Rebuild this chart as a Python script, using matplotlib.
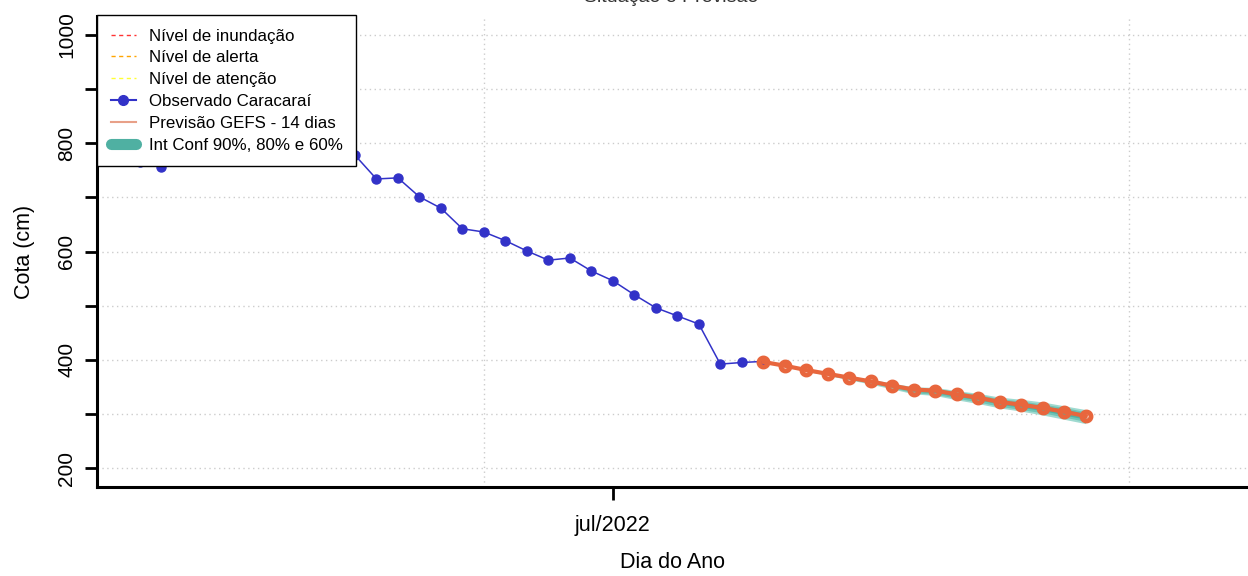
import matplotlib
matplotlib.use("Agg")
import matplotlib.pyplot as plt
import matplotlib.dates as mdates
from matplotlib.lines import Line2D
import pandas as pd

plt.rcParams['font.family'] = ['Liberation Sans', 'DejaVu Sans']

# observed river level (cm), one value per day starting 2022-06-09
obs_start = "2022-06-09"
obs_cota = [765, 756, 795, 805, 810, 812, 810, 806, 800, 792,
            778, 734, 736, 701, 680, 642, 636, 620, 601, 584,
            588, 564, 546, 520, 496, 481, 466, 392, 395, 397]

# GEFS forecast, 14 days ahead, starting 2022-07-08
prev_start = "2022-07-08"
prev_cota = [396, 389, 381, 374, 367, 360, 352, 345, 343, 336,
             330, 322, 317, 311, 304, 296]
ic90_low = [395, 387, 379, 371, 363, 355, 346, 337, 334, 326, 319, 311, 305, 298, 290, 282]
ic90_up = [397, 391, 383, 377, 370, 364, 357, 350, 349, 343, 338, 331, 327, 322, 315, 308]
ic80_low = [395, 388, 380, 372, 364, 357, 348, 339, 336, 329, 322, 314, 308, 302, 294, 286]
ic80_up = [397, 390, 382, 376, 369, 363, 355, 348, 347, 341, 336, 328, 324, 318, 312, 304]
ic60_low = [396, 388, 380, 373, 365, 358, 350, 342, 339, 332, 326, 318, 312, 306, 298, 290]
ic60_up = [396, 389, 382, 375, 368, 361, 354, 346, 345, 339, 333, 325, 321, 315, 309, 301]

obs_dates = pd.date_range(obs_start, periods=len(obs_cota), freq="D")
prev_dates = pd.date_range(prev_start, periods=len(prev_cota), freq="D")

W, H = 1248, 576
fig = plt.figure(figsize=(W / 100, H / 100), dpi=100)
ax = fig.add_axes([97 / W, 1 - 487 / H, 1 - 97 / W, (487 - 16) / H])

jul1 = mdates.date2num(pd.Timestamp("2022-07-01"))
ax.set_xlim(jul1 - 24.0, jul1 + 29.55)
ax.set_ylim(165, 1035)

# grid
grid_kw = dict(color="#cccccc", linestyle=(0, (1, 2.5)), linewidth=1, zorder=0)
for v in range(200, 1001, 100):
    ax.axhline(v, **grid_kw)
for d in ["2022-06-25", "2022-07-25"]:
    ax.axvline(mdates.date2num(pd.Timestamp(d)), **grid_kw)

# confidence bands
ax.fill_between(prev_dates, ic90_low, ic90_up, color="#9fdad0", lw=0, zorder=2)
ax.fill_between(prev_dates, ic80_low, ic80_up, color="#70c4b6", lw=0, zorder=2)
ax.fill_between(prev_dates, ic60_low, ic60_up, color="#4fb0a2", lw=0, zorder=2)

ax.plot(obs_dates, obs_cota, color="#3232c8", lw=1.1, marker="o", ms=6.5,
        mec="#3232c8", mfc="#3232c8", zorder=3)
ax.plot(prev_dates, prev_cota, color="#e8663d", lw=3, marker="o", ms=6.5,
        mfc="none", mec="#e8663d", mew=3.5, zorder=4)

# axes styling (R-like)
for s in ["top", "right"]:
    ax.spines[s].set_visible(False)
for s in ["left", "bottom"]:
    ax.spines[s].set_linewidth(2.2)
ax.set_yticks(range(200, 1001, 100))
ax.set_yticklabels([str(v) if v % 200 == 0 else "" for v in range(200, 1001, 100)],
                   rotation=90, va="center")
ax.set_xticks([jul1])
ax.set_xticklabels(["jul/2022"])
ax.tick_params(axis="y", length=9, width=2, labelsize=15, pad=6)
ax.tick_params(axis="x", length=9, width=2, labelsize=15.5, pad=11)

ax.set_ylabel("Cota (cm)", fontsize=15.5, labelpad=16)
ax.set_xlabel("Dia do Ano", fontsize=15.5, labelpad=12)

# title sits mostly above the top edge, as in the original
fig.text(0.538, 1 - 1.5 / H, "Situação e Previsão", ha="center", va="baseline",
         fontsize=14, color="#333333")

handles = [
    Line2D([], [], color="#ff3333", lw=1, ls=(0, (3, 2.5))),
    Line2D([], [], color="#ffa500", lw=1, ls=(0, (3, 2.5))),
    Line2D([], [], color="#ffff33", lw=1, ls=(0, (3, 2.5))),
    Line2D([], [], color="#3232c8", lw=1.5, marker="o", ms=7),
    Line2D([], [], color="#e8a088", lw=1.5),
    Line2D([], [], color="#4fb0a2", lw=8, solid_capstyle="round"),
]
labels = ["Nível de inundação", "Nível de alerta", "Nível de atenção",
          "Observado Caracaraí", "Previsão GEFS - 14 dias", "Int Conf 90%, 80% e 60%"]
leg = ax.legend(handles, labels, loc="upper left", bbox_to_anchor=(0, 1.002),
                borderaxespad=0, fontsize=12.2, frameon=True, fancybox=False,
                edgecolor="black", framealpha=1, borderpad=0.8, labelspacing=0.4,
                handlelength=1.5, handletextpad=0.75)
leg.get_frame().set_linewidth(1)
leg.set_zorder(10)

fig.savefig("out.png", dpi=100)
